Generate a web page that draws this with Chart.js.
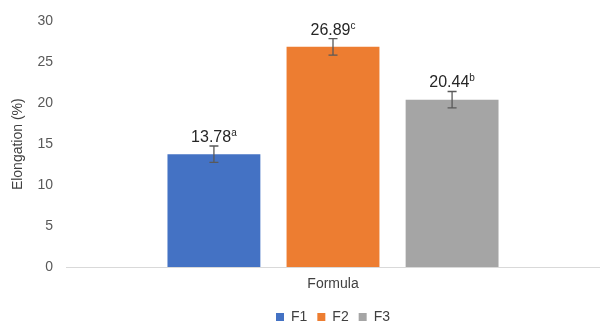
<!DOCTYPE html>
<html>
<head>
<meta charset="utf-8">
<script src="https://cdn.jsdelivr.net/npm/chart.js@4/dist/chart.umd.min.js"></script>
<style>
  html, body { margin: 0; padding: 0; background: #fff; }
  #wrap { width: 600px; height: 329px; }
</style>
</head>
<body>
<div id="wrap"><canvas id="chart"></canvas></div>
<script>
const categories = ["Formula"];
const seriesNames = ["F1", "F2", "F3"];
const seriesValues = [13.78, 26.89, 20.44];
const seriesErrors = [1.0, 1.0, 1.0];
const seriesLetters = ["a", "c", "b"];
const seriesColors = ["#4472C4", "#ED7D31", "#A5A5A5"];
const yTicks = [0, 5, 10, 15, 20, 25, 30];

const FONT = "'Liberation Sans', Arial, sans-serif";

// axis line, error bars + value labels with superscript letters
const barExtras = {
  id: "barExtras",
  beforeDatasetsDraw(chart) {
    const ctx = chart.ctx;
    const area = chart.chartArea;
    ctx.save();
    ctx.strokeStyle = "#D9D9D9";
    ctx.lineWidth = 1;
    ctx.beginPath();
    ctx.moveTo(area.left, area.bottom + 0.5);
    ctx.lineTo(chart.width, area.bottom + 0.5);
    ctx.stroke();
    ctx.restore();
  },
  afterDatasetsDraw(chart) {
    const ctx = chart.ctx;
    const y = chart.scales.y;
    ctx.save();
    chart.data.datasets.forEach((ds, i) => {
      const bar = chart.getDatasetMeta(i).data[0];
      const x = bar.x;
      const v = seriesValues[i];
      const e = seriesErrors[i];
      const top = y.getPixelForValue(v + e);
      const bot = y.getPixelForValue(v - e);

      ctx.strokeStyle = "#595959";
      ctx.lineWidth = 1.3;
      ctx.beginPath();
      ctx.moveTo(x, top); ctx.lineTo(x, bot);
      ctx.moveTo(x - 4.5, top); ctx.lineTo(x + 4.5, top);
      ctx.moveTo(x - 4.5, bot); ctx.lineTo(x + 4.5, bot);
      ctx.stroke();

      const main = v.toFixed(2);
      const sup = seriesLetters[i];
      ctx.font = "16px " + FONT;
      const w1 = ctx.measureText(main).width;
      ctx.font = "10px " + FONT;
      const w2 = ctx.measureText(sup).width;
      const startX = x - (w1 + w2) / 2;
      const base = top - 4;
      ctx.fillStyle = "#262626";
      ctx.textBaseline = "alphabetic";
      ctx.textAlign = "left";
      ctx.font = "16px " + FONT;
      ctx.fillText(main, startX, base);
      ctx.font = "10px " + FONT;
      ctx.fillText(sup, startX + w1, base - 6);
    });
    ctx.restore();
  }
};

new Chart(document.getElementById("chart"), {
  type: "bar",
  data: {
    labels: categories,
    datasets: seriesNames.map((name, i) => ({
      label: name,
      data: [seriesValues[i]],
      backgroundColor: seriesColors[i],
      borderWidth: 0,
      categoryPercentage: 0.669,
      barPercentage: 0.78
    }))
  },
  options: {
    responsive: true,
    maintainAspectRatio: false,
    animation: false,
    layout: { padding: { top: 16, right: 0, left: 10, bottom: -5 } },
    scales: {
      x: {
        afterFit(scale) { scale.height = 33; },
        grid: { display: false, drawTicks: false },
        border: { display: false },
        ticks: { color: "#404040", font: { family: FONT, size: 14 }, padding: 9 }
      },
      y: {
        min: 0,
        max: 30,
        afterBuildTicks(scale) {
          scale.ticks = yTicks.map(v => ({ value: v }));
        },
        afterFit(scale) { scale.width = 56; },
        grid: { display: false, drawTicks: false },
        border: { display: false },
        ticks: { color: "#595959", font: { family: FONT, size: 14 }, padding: 13 },
        title: {
          display: true,
          text: "Elongation (%)",
          color: "#404040",
          font: { family: FONT, size: 14 },
          padding: 0
        }
      }
    },
    plugins: {
      legend: {
        position: "bottom",
        fullSize: false,
        labels: {
          color: "#404040",
          font: { family: FONT, size: 14 },
          boxWidth: 8,
          boxHeight: 8,
          padding: 10
        }
      },
      tooltip: { enabled: false }
    }
  },
  plugins: [barExtras]
});
</script>
</body>
</html>
